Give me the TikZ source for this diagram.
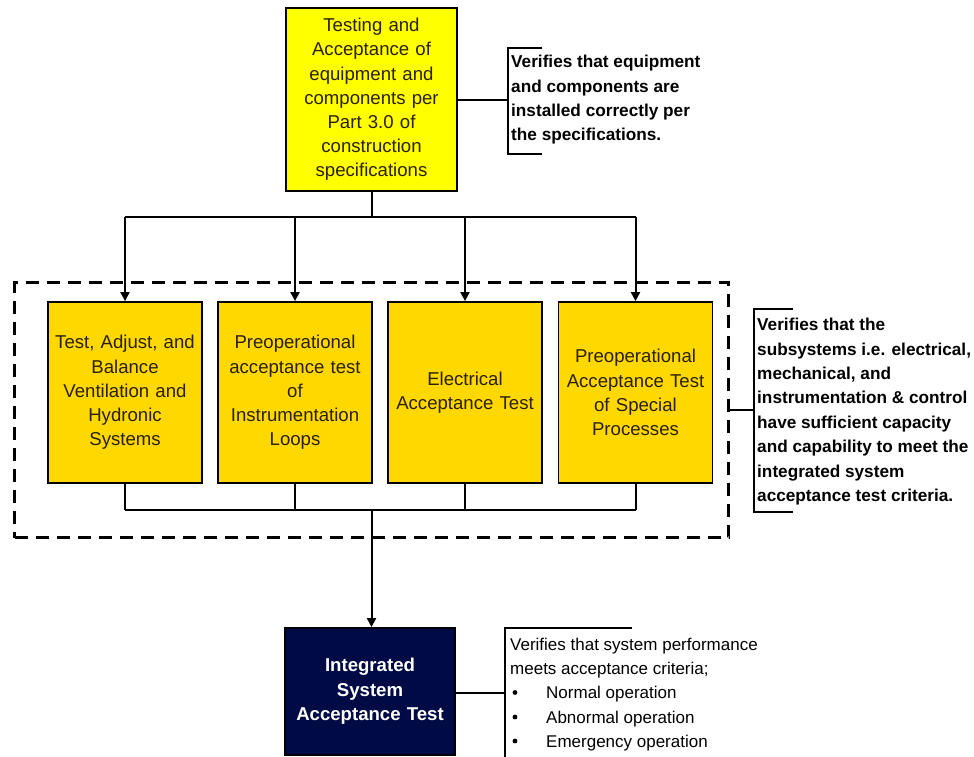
\documentclass[tikz,border=0pt]{standalone}
\usepackage{fontspec}
\setmainfont{Liberation Sans}
\usetikzlibrary{arrows.meta}
\definecolor{topyellow}{HTML}{FFFF00}
\definecolor{gold}{HTML}{FFD800}
\definecolor{navy}{HTML}{000B45}
\definecolor{boxtext}{HTML}{2B2000}
\begin{document}
\begin{tikzpicture}[x=1pt,y=-1pt,
  box/.style={draw=black,line width=1.8pt,inner sep=0pt,align=center,
    font=\fontsize{18.6}{24.2}\selectfont},
  mid/.style={box,fill=gold,text=boxtext,minimum width=154pt,minimum height=181pt,text width=152pt},
  ln/.style={line width=2pt},
  arr/.style={ln,-{Triangle[length=9pt,width=9pt]}},
  brk/.style={line width=1.5pt},
  note/.style={anchor=north west,align=left,inner sep=0pt,
    font=\fontsize{17}{24.4}\selectfont},
  boldnote/.style={note,font=\fontsize{17.2}{24.4}\selectfont\bfseries}
]
\useasboundingbox (0,0) rectangle (974,757);

% top box
\node[box,fill=topyellow,text=boxtext,minimum width=171pt,minimum height=183pt,text width=169pt]
  (top) at (371.5,99.5) {Testing and\\Acceptance of\\equipment and\\components per\\Part 3.0 of\\construction\\specifications};

% middle boxes
\node[mid] (m1) at (125,392.5) {Test, Adjust, and\\Balance\\Ventilation and\\Hydronic\\Systems};
\node[mid] (m2) at (295,392.5) {Preoperational\\acceptance test\\of\\Instrumentation\\Loops};
\node[mid] (m3) at (465,392.5) {Electrical\\Acceptance Test};
\node[mid] (m4) at (635.5,392.5) {Preoperational\\Acceptance Test\\of Special\\Processes};

% dashed group
\node[draw=black,line width=2.5pt,dash pattern=on 13pt off 8pt,minimum width=714pt,minimum height=255pt,inner sep=0pt]
  (grp) at (371.5,410) {};

% bottom box
\node[box,fill=navy,text=white,font=\fontsize{18.6}{24.5}\selectfont\bfseries,minimum width=170pt,minimum height=127pt,text width=168pt]
  (bot) at (370,691.5) {Integrated\\System\\Acceptance Test};

% top bus
\coordinate (busT) at (371.5,217);
\draw[ln] (top.south) -- (busT);
\draw[ln] (m1.north |- busT) -- (m4.north |- busT);
\foreach \m in {m1,m2,m3,m4} \draw[arr] (\m.north |- busT) -- (\m.north);

% bottom bus
\coordinate (busB) at (371.5,510);
\foreach \m in {m1,m2,m3,m4} \draw[ln] (\m.south) -- (\m.south |- busB);
\draw[ln] (m1.south |- busB) -- (m4.south |- busB);
\draw[arr] (busB) -- (busB |- bot.north);

% annotation 1
\coordinate (b1) at (508,100);
\draw[ln] (top.east |- b1) -- (b1);
\draw[brk] (542,48) -- (508,48) -- (508,154) -- (542,154);
\node[boldnote] (n1) at (511,55)
  {Verifies that equipment\\and components are\\installed correctly per\\the specifications.};

% annotation 2
\coordinate (b2) at (754,410);
\draw[ln] (grp.east |- b2) -- (b2);
\draw[brk] (793,309) -- (754,309) -- (754,512) -- (793,512);
\node[boldnote] (n2) at (757,318)
  {Verifies that the\\subsystems i.e. electrical,\\mechanical, and\\instrumentation \& control\\have sufficient capacity\\and capability to meet the\\integrated system\\acceptance test criteria.};

% annotation 3
\coordinate (b3) at (505,693);
\draw[ln] (bot.east |- b3) -- (b3);
\draw[brk] (632,628) -- (505,628) -- (505,757);
\node[note] (n3) at (510,638) {Verifies that system performance\\meets acceptance criteria;};
\foreach \y/\t in {686/Normal operation,710.5/Abnormal operation,734.5/Emergency operation}{
  \fill (515,\y+6.5) circle (2.4pt);
  \node[note] at (546,\y) {\t};
}
\end{tikzpicture}
\end{document}
